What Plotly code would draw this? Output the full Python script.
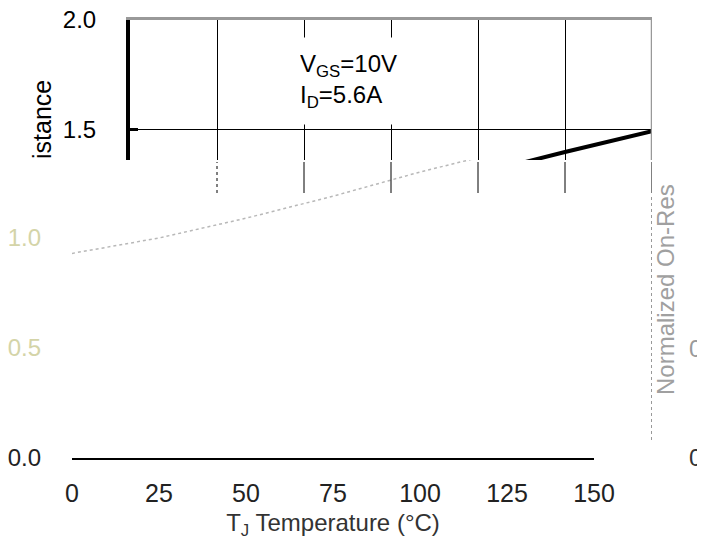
import plotly.graph_objects as go

# ---- data ----
temperature = [0, 25, 50, 75, 100, 125, 150]
norm_rdson = [0.93, 1.00, 1.09, 1.19, 1.30, 1.40, 1.495]
x_ticks = [0, 25, 50, 75, 100, 125, 150]
x_tick_labels = ["0", "25", "50", "75", "100", "125", "150"]
y_top_ticks = [1.5, 2.0]
y_top_labels = ["1.5", "2.0"]
y_low_ticks = [0.0, 0.5, 1.0]
y_low_labels = ["0.0",
                "<span style='color:#d4d4a8'>0.5</span>",
                "<span style='color:#d4d4a8'>1.0</span>"]
cond_text = "V<sub>GS</sub>=10V<br>I<sub>D</sub>=5.6A"
x_title = "T<sub>J</sub> Temperature (°C)"
y_title_top = "istance"
y_title_side = "Normalized On-Res"

W, H = 705, 546
OFF = 8  # page offset of the plot div
FONT = "Liberation Sans, Arial, sans-serif"

def px(x):
    return (x - OFF) / W

def py(y):
    return 1 - (y - OFF) / H

fig = go.Figure()

# upper (intact) part of the chart
fig.add_trace(go.Scatter(x=temperature, y=norm_rdson, xaxis="x", yaxis="y",
                         mode="lines", line=dict(color="black", width=4),
                         showlegend=False, hoverinfo="skip"))
# lower (faded, shifted) part of the chart
fig.add_trace(go.Scatter(x=temperature, y=norm_rdson, xaxis="x2", yaxis="y2",
                         mode="lines", line=dict(color="#b8b8b8", width=1.5, dash="dot"),
                         showlegend=False, hoverinfo="skip"))

shapes = []
# right border of the upper frame
shapes.append(dict(type="line", xref="x", yref="paper", x0=150, x1=150,
                   y0=py(160), y1=py(20), line=dict(color="#999999", width=2.5)))
# grid stubs below the intact area
for t in x_ticks[1:]:
    shapes.append(dict(type="line", xref="x", yref="paper", x0=t, x1=t,
                       y0=py(193), y1=py(162),
                       line=dict(color="black", width=1,
                                 dash="dot" if t == 25 else "solid")))
# dotted remnant of the right border
shapes.append(dict(type="line", xref="x", yref="paper", x0=150, x1=150,
                   y0=py(440), y1=py(195),
                   line=dict(color="#777777", width=1.5, dash="dot")))

annotations = [
    dict(text=cond_text, xref="paper", yref="paper", x=px(299), y=py(37),
         xanchor="left", yanchor="top", width=106, height=86, align="left",
         valign="middle", bgcolor="white", showarrow=False, borderpad=0,
         font=dict(family=FONT, size=24, color="black")),
    dict(text=y_title_top, xref="paper", yref="paper", x=px(42), y=py(120),
         textangle=-90, showarrow=False, xanchor="center", yanchor="middle",
         font=dict(family=FONT, size=25, color="black")),
    dict(text=y_title_side, xref="paper", yref="paper", x=px(665), y=py(290),
         textangle=-90, showarrow=False, xanchor="center", yanchor="middle",
         font=dict(family=FONT, size=24, color="#a0a0a0")),
    dict(text="0", xref="paper", yref="paper", x=px(687), y=py(348),
         xanchor="left", yanchor="middle", showarrow=False,
         font=dict(family=FONT, size=24, color="#9a9a9a")),
    dict(text="0", xref="paper", yref="paper", x=px(687), y=py(457),
         xanchor="left", yanchor="middle", showarrow=False,
         font=dict(family=FONT, size=24, color="#333333")),
]

fig.update_layout(
    width=W, height=H,
    margin=dict(l=0, r=0, t=0, b=0, autoexpand=False),
    paper_bgcolor="white", plot_bgcolor="rgba(0,0,0,0)",
    font=dict(family=FONT, size=24, color="black"),
    showlegend=False,
    xaxis=dict(domain=[px(130), px(652)], range=[0, 150], anchor="y",
               side="top", showline=True, linecolor="#999999", linewidth=2.5,
               tickvals=x_ticks, showticklabels=False, ticks="",
               showgrid=True, gridcolor="black", gridwidth=1, zeroline=False,
               automargin=False),
    yaxis=dict(domain=[py(160), py(20)], range=[1.3636, 2.0], anchor="x",
               tickvals=y_top_ticks, ticktext=y_top_labels,
               ticks="inside", ticklen=8, tickwidth=3, tickcolor="black",
               showline=True, linecolor="black", linewidth=4,
               showgrid=True, gridcolor="black", gridwidth=1, zeroline=False,
               ticklabelstandoff=25, automargin=False,
               ticklabeloverflow="allow",
               tickfont=dict(family=FONT, size=24, color="black")),
    xaxis2=dict(domain=[px(72), px(594)], range=[0, 150], anchor="y2",
                showline=True, linecolor="black", linewidth=2,
                tickvals=x_ticks, ticktext=x_tick_labels, ticks="",
                showgrid=False, zeroline=False, ticklabelstandoff=12,
                automargin=False, ticklabeloverflow="allow",
                tickfont=dict(family=FONT, size=25, color="#222222"),
                title=dict(text=x_title, standoff=8,
                           font=dict(family=FONT, size=24, color="#333333"))),
    yaxis2=dict(domain=[py(458), py(160)], range=[0, 1.3545], anchor="x2",
                tickvals=y_low_ticks, ticktext=y_low_labels, ticks="",
                showline=False, showgrid=False, zeroline=False,
                ticklabelstandoff=30, automargin=False,
                ticklabeloverflow="allow",
                tickfont=dict(family=FONT, size=24, color="#222222")),
    shapes=shapes,
    annotations=annotations,
)

fig.write_html("out.html")
